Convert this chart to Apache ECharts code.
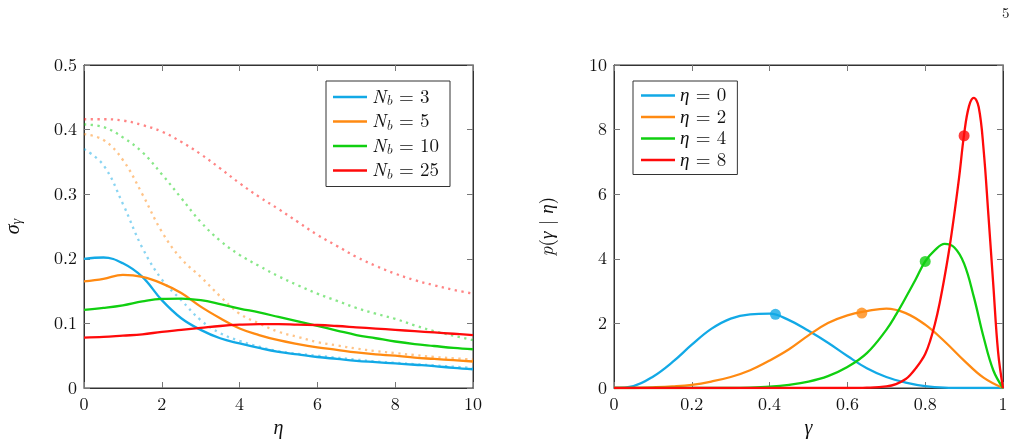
<!DOCTYPE html>
<html>
<head>
<meta charset="utf-8">
<script src="https://cdn.jsdelivr.net/npm/echarts@6/dist/echarts.min.js"></script>
<style>
  html, body { margin: 0; padding: 0; background: #fff; }
  #chart { width: 1022px; height: 445px; }
</style>
</head>
<body>
<div id="chart"></div>
<script>
// left panel: sigma_gamma vs eta (step 0.5)
const etaGrid = [0, 0.5, 1, 1.5, 2, 2.5, 3, 3.5, 4, 4.5, 5, 5.5, 6, 6.5, 7, 7.5, 8, 8.5, 9, 9.5, 10]
const sigmaNb3 = [0.200, 0.202, 0.193, 0.172, 0.136, 0.108, 0.090, 0.077, 0.069, 0.062, 0.056, 0.052, 0.048, 0.045, 0.042, 0.040, 0.038, 0.036, 0.034, 0.031, 0.029]
const sigmaNb5 = [0.165, 0.169, 0.175, 0.172, 0.162, 0.147, 0.126, 0.108, 0.092, 0.082, 0.074, 0.068, 0.063, 0.059, 0.055, 0.052, 0.050, 0.047, 0.045, 0.043, 0.041]
const sigmaNb10 = [0.121, 0.124, 0.128, 0.134, 0.138, 0.1385, 0.136, 0.130, 0.123, 0.117, 0.110, 0.103, 0.096, 0.089, 0.082, 0.077, 0.072, 0.068, 0.065, 0.062, 0.060]
const sigmaNb25 = [0.078, 0.079, 0.081, 0.083, 0.087, 0.090, 0.093, 0.096, 0.098, 0.099, 0.099, 0.098, 0.0975, 0.096, 0.094, 0.092, 0.090, 0.088, 0.086, 0.084, 0.082]

// dotted (lighter) companions
const dotNb3 = [0.370, 0.345, 0.285, 0.217, 0.168, 0.136, 0.105, 0.085, 0.073, 0.064, 0.057, 0.053, 0.050, 0.047, 0.044, 0.041, 0.039, 0.037, 0.035, 0.033, 0.031]
const dotNb5 = [0.393, 0.384, 0.353, 0.300, 0.242, 0.200, 0.172, 0.142, 0.115, 0.100, 0.087, 0.079, 0.071, 0.066, 0.061, 0.057, 0.054, 0.051, 0.048, 0.046, 0.044]
const dotNb10 = [0.408, 0.404, 0.388, 0.365, 0.331, 0.294, 0.257, 0.228, 0.206, 0.189, 0.173, 0.159, 0.146, 0.135, 0.124, 0.115, 0.107, 0.097, 0.088, 0.081, 0.074]
const dotNb25 = [0.416, 0.416, 0.414, 0.407, 0.397, 0.381, 0.362, 0.340, 0.317, 0.296, 0.277, 0.257, 0.237, 0.220, 0.203, 0.189, 0.177, 0.167, 0.159, 0.152, 0.146]

const nbLabels = ['3', '5', '10', '25']

// right panel: p(gamma | eta)
const gammaEta0 = [0, 0.05, 0.1, 0.15, 0.2, 0.25, 0.3, 0.35, 0.4, 0.45, 0.5, 0.55, 0.6, 0.65, 0.7, 0.75, 0.8, 0.85, 0.9, 0.95, 1]
const pEta0 = [0, 0.06, 0.35, 0.8, 1.34, 1.83, 2.15, 2.28, 2.3, 2.1, 1.77, 1.4, 0.99, 0.61, 0.34, 0.17, 0.06, 0.01, 0, 0, 0]
const gammaEta2 = [0, 0.05, 0.1, 0.15, 0.2, 0.25, 0.3, 0.35, 0.4, 0.45, 0.5, 0.55, 0.6, 0.65, 0.7, 0.75, 0.8, 0.85, 0.9, 0.95, 1]
const pEta2 = [0, 0, 0.02, 0.05, 0.1, 0.2, 0.34, 0.55, 0.85, 1.2, 1.63, 2.01, 2.25, 2.38, 2.46, 2.32, 1.96, 1.44, 0.85, 0.32, 0]
const gammaEta4 = [0, 0.3, 0.35, 0.4, 0.45, 0.5, 0.55, 0.6, 0.65, 0.7, 0.725, 0.75, 0.775, 0.8, 0.825, 0.85, 0.875, 0.9, 0.925, 0.95, 0.975, 1]
const pEta4 = [0, 0, 0.01, 0.04, 0.1, 0.2, 0.37, 0.65, 1.08, 1.8, 2.27, 2.8, 3.35, 3.92, 4.27, 4.46, 4.35, 3.85, 2.82, 1.58, 0.55, 0]
const gammaEta8 = [0, 0.6, 0.65, 0.7, 0.725, 0.75, 0.7625, 0.775, 0.7875, 0.8, 0.8125, 0.825, 0.8375, 0.85, 0.8625, 0.875, 0.8875, 0.9, 0.9125, 0.925, 0.9375, 0.95, 0.9625, 0.975, 0.9875, 1]
const pEta8 = [0, 0, 0.01, 0.05, 0.12, 0.28, 0.42, 0.6, 0.8, 1.05, 1.45, 1.98, 2.65, 3.45, 4.35, 5.4, 6.55, 7.85, 8.72, 8.98, 8.7, 7.4, 5.35, 3.2, 1.1, 0]
const etaLabels = ['0', '2', '4', '8']

// marked points on each curve
const dotGamma = [0.415, 0.637, 0.8, 0.9]
const dotP = [2.28, 2.32, 3.92, 7.81]

const colors = ['#12a9e6', '#ff8a12', '#10cf10', '#ff0a0a']
const serif = 'Latin Modern Roman'

const zip = (xs, ys) => xs.map((x, i) => [x, ys[i]])

const chart = echarts.init(document.getElementById('chart'))

const grids = [
  { left: 84, top: 65, width: 389, height: 323, show: true, borderColor: '#333', borderWidth: 1 },
  { left: 614, top: 65, width: 389, height: 323, show: true, borderColor: '#333', borderWidth: 1 }
]

const axisLine = () => ({ show: true, onZero: false, lineStyle: { color: '#333', width: 1 } })
const axisTick = () => ({ show: true, inside: true, length: 6, lineStyle: { color: '#777', width: 1 } })

// one axis; frame axes (top/right) carry ticks only
function ax(gridIndex, min, max, interval, position, label) {
  return {
    type: 'value', gridIndex, min, max, interval, position,
    axisLine: axisLine(), axisTick: axisTick(), splitLine: { show: false },
    axisLabel: { show: label, fontFamily: serif, fontSize: 18, color: '#111', margin: 7 }
  }
}
function withXName(axis, name) {
  return Object.assign(axis, {
    name, nameLocation: 'middle', nameGap: 30,
    nameTextStyle: { fontFamily: serif, fontSize: 20, fontStyle: 'italic', color: '#111' }
  })
}
function withYName(axis, name, nameGap, rich) {
  return Object.assign(axis, {
    name, nameLocation: 'middle', nameGap, nameRotate: 90,
    nameTextStyle: { fontFamily: serif, fontSize: 19, color: '#111', rich }
  })
}

const legendRich = {
  i: { fontFamily: serif, fontSize: 19, fontStyle: 'italic', color: '#111', lineHeight: 22 },
  s: { fontFamily: serif, fontSize: 14, fontStyle: 'italic', color: '#111', lineHeight: 22, padding: [8, 0, 0, 0] },
  n: { fontFamily: serif, fontSize: 19, color: '#111', lineHeight: 22 }
}
const sp = '\u2004'

const series = []
const solidLeft = [sigmaNb3, sigmaNb5, sigmaNb10, sigmaNb25]
const dottedLeft = [dotNb3, dotNb5, dotNb10, dotNb25]
dottedLeft.forEach((vals, k) => {
  series.push({
    name: 'dot' + k, type: 'line', xAxisIndex: 0, yAxisIndex: 0,
    data: zip(etaGrid, vals), smooth: 0.4, symbol: 'none',
    lineStyle: { color: colors[k], width: 2.3, type: [2.3, 4.4], opacity: 0.5, cap: 'butt' },
    z: 2
  })
})
solidLeft.forEach((vals, k) => {
  series.push({
    name: 'Nb' + nbLabels[k], type: 'line', xAxisIndex: 0, yAxisIndex: 0,
    data: zip(etaGrid, vals), smooth: 0.4, symbol: 'none',
    itemStyle: { color: colors[k] },
    lineStyle: { color: colors[k], width: 2.3 },
    z: 3
  })
})

const gammaRight = [gammaEta0, gammaEta2, gammaEta4, gammaEta8]
const pRight = [pEta0, pEta2, pEta4, pEta8]
pRight.forEach((vals, k) => {
  series.push({
    name: 'eta' + etaLabels[k], type: 'line', xAxisIndex: 2, yAxisIndex: 2,
    data: zip(gammaRight[k], vals), smooth: 0.4, symbol: 'none',
    itemStyle: { color: colors[k] },
    lineStyle: { color: colors[k], width: 2.3 },
    z: 3
  })
})
series.push({
  name: 'marks', type: 'scatter', xAxisIndex: 2, yAxisIndex: 2,
  data: dotGamma.map((g, k) => ({ value: [g, dotP[k]], itemStyle: { color: colors[k] } })),
  symbolSize: 11, z: 4
})

const legendBase = {
  orient: 'vertical', top: 81,
  icon: 'rect', itemWidth: 34, itemHeight: 2.5, itemGap: 2.5,
  borderColor: '#333', borderWidth: 1, backgroundColor: '#fff', borderRadius: 0,
  textStyle: { rich: legendRich }
}

const option = {
  animation: false,
  backgroundColor: '#fff',
  grid: grids,
  xAxis: [
    withXName(ax(0, 0, 10, 2, 'bottom', true), 'η'),
    ax(0, 0, 10, 2, 'top', false),
    withXName(ax(1, 0, 1, 0.2, 'bottom', true), 'γ'),
    ax(1, 0, 1, 0.2, 'top', false)
  ],
  yAxis: [
    withYName(ax(0, 0, 0.5, 0.1, 'left', true), '{a|σ}{b|γ}', 60, {
      a: { fontFamily: serif, fontSize: 20, fontStyle: 'italic', color: '#111' },
      b: { fontFamily: serif, fontSize: 14, fontStyle: 'italic', color: '#111', padding: [8, 0, 0, 0] }
    }),
    ax(0, 0, 0.5, 0.1, 'right', false),
    withYName(ax(1, 0, 10, 2, 'left', true), '{i|p}({i|γ} | {i|η})', 57, {
      i: { fontFamily: serif, fontSize: 19, fontStyle: 'italic', color: '#111' }
    }),
    ax(1, 0, 10, 2, 'right', false)
  ],
  legend: [
    Object.assign({}, legendBase, {
      data: nbLabels.map(n => 'Nb' + n),
      left: 326, padding: [5, 11, 5, 7],
      formatter: name => '{i|N}{s|b}{n|' + sp + '=' + sp + name.slice(2) + '}'
    }),
    Object.assign({}, legendBase, {
      data: etaLabels.map(e => 'eta' + e),
      left: 633, padding: [5, 11, 5, 8],
      formatter: name => '{i|η}{n|' + sp + '=' + sp + name.slice(3) + '}'
    })
  ],
  graphic: [
    {
      type: 'text', left: 1002, top: 6,
      style: { text: '5', font: '15px "' + serif + '"', fill: '#111' }
    }
  ],
  series
}

chart.setOption(option)
</script>
</body>
</html>
